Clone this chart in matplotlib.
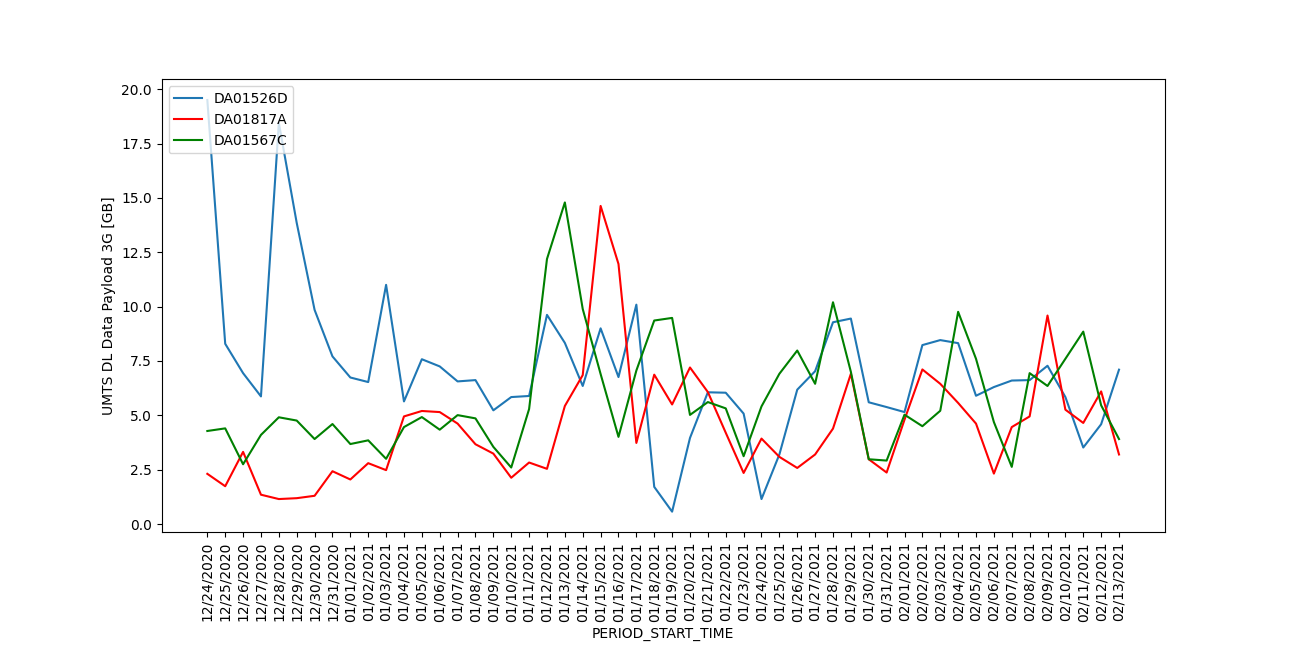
import matplotlib
matplotlib.use("Agg")
import matplotlib.pyplot as plt
import pandas as pd

dates = pd.date_range("2020-12-24", "2021-02-13", freq="D").strftime("%m/%d/%Y").tolist()

da01526d = [19.5, 8.29, 6.94, 5.87, 18.45, 13.85, 9.85, 7.71, 6.74, 6.53,
            11.0, 5.64, 7.58, 7.25, 6.56, 6.62, 5.23, 5.84, 5.89, 9.62,
            8.33, 6.35, 9.0, 6.76, 10.09, 1.71, 0.57, 3.96, 6.06, 6.04,
            5.08, 1.15, 3.2, 6.18, 7.03, 9.28, 9.45, 5.6, 5.38, 5.15,
            8.23, 8.46, 8.32, 5.9, 6.3, 6.6, 6.62, 7.28, 5.84, 3.52,
            4.59, 7.1]
da01817a = [2.31, 1.74, 3.32, 1.35, 1.15, 1.19, 1.3, 2.43, 2.05, 2.8,
            2.48, 4.95, 5.2, 5.15, 4.62, 3.67, 3.24, 2.13, 2.83, 2.54,
            5.43, 6.85, 14.63, 11.96, 3.73, 6.87, 5.5, 7.2, 6.07, 4.2,
            2.35, 3.93, 3.09, 2.58, 3.2, 4.39, 6.91, 2.98, 2.37, 4.8,
            7.11, 6.45, 5.57, 4.62, 2.32, 4.46, 4.95, 9.59, 5.26, 4.65,
            6.1, 3.2]
da01567c = [4.28, 4.4, 2.75, 4.1, 4.91, 4.76, 3.91, 4.6, 3.68, 3.85,
            3.0, 4.46, 4.92, 4.34, 5.01, 4.86, 3.55, 2.6, 5.29, 12.19,
            14.79, 9.89, 6.9, 4.01, 7.06, 9.36, 9.48, 5.02, 5.61, 5.32,
            3.12, 5.41, 6.91, 7.98, 6.45, 10.2, 7.0, 2.98, 2.92, 5.03,
            4.5, 5.21, 9.76, 7.6, 4.69, 2.63, 6.94, 6.35, 7.6, 8.85,
            5.46, 3.91]

fig, ax = plt.subplots(figsize=(12.94, 6.62), dpi=100)
fig.subplots_adjust(left=0.125, right=0.9, top=0.88, bottom=0.196)
ax.plot(dates, da01526d, label="DA01526D")
ax.plot(dates, da01817a, color="red", label="DA01817A")
ax.plot(dates, da01567c, color="green", label="DA01567C")
ax.set_xlabel("PERIOD_START_TIME")
ax.set_ylabel("UMTS DL Data Payload 3G [GB]")
plt.xticks(rotation=90)
ax.legend(loc="upper left")
fig.savefig("out.png")
